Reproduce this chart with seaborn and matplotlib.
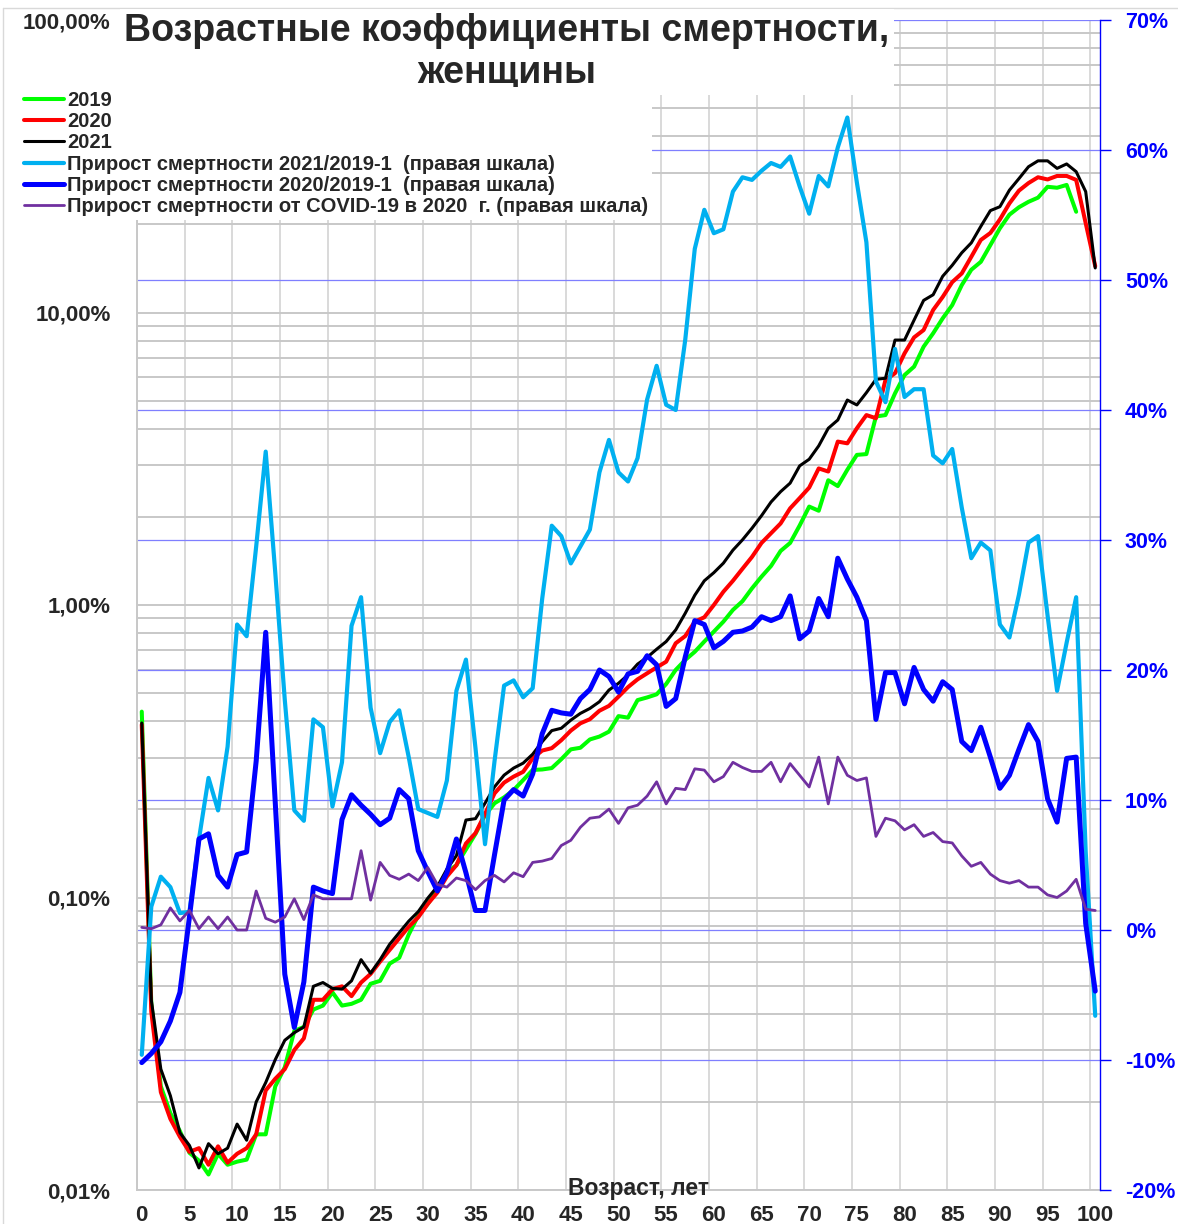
import numpy as np
import pandas as pd
import matplotlib
matplotlib.use('Agg')
import matplotlib.pyplot as plt
import seaborn as sns
from matplotlib.lines import Line2D
from matplotlib import transforms
from matplotlib.ticker import FixedLocator, LogLocator, NullFormatter, FuncFormatter

# --- данные (в %) ---
ages = list(range(101))

m2019 = [0.432, 0.0433, 0.0226, 0.0183, 0.0159, 0.0134, 0.0126, 0.0113, 0.0133, 0.0122,
         0.0125, 0.0127, 0.0155, 0.0155, 0.0226, 0.0263, 0.0350, 0.0361, 0.0414, 0.0427,
         0.0474, 0.0427, 0.0433, 0.0447, 0.0507, 0.0519, 0.0594, 0.0622, 0.0747, 0.0869,
         0.0951, 0.106, 0.122, 0.129, 0.146, 0.165, 0.191, 0.210, 0.220, 0.233,
         0.252, 0.273, 0.274, 0.277, 0.297, 0.321, 0.325, 0.347, 0.355, 0.369,
         0.417, 0.412, 0.473, 0.483, 0.495, 0.537, 0.600, 0.649, 0.692, 0.750,
         0.811, 0.877, 0.962, 1.03, 1.14, 1.25, 1.36, 1.53, 1.63, 1.87,
         2.17, 2.10, 2.67, 2.55, 2.90, 3.26, 3.28, 4.41, 4.46, 5.29,
         6.11, 6.53, 7.64, 8.49, 9.55, 10.6, 12.4, 14.0, 14.9, 17.0,
         19.4, 21.6, 22.9, 23.9, 24.7, 26.9, 26.7, 27.3, 22.1, np.nan, np.nan]

m2020 = [0.39, 0.0407, 0.0216, 0.0175, 0.0152, 0.0135, 0.0139, 0.0122, 0.0141, 0.0124,
         0.0133, 0.0139, 0.0155, 0.0219, 0.0240, 0.0259, 0.0301, 0.0330, 0.0447, 0.0447,
         0.0486, 0.0497, 0.0460, 0.0512, 0.0548, 0.0604, 0.0662, 0.0725, 0.0794, 0.0856,
         0.0951, 0.104, 0.118, 0.129, 0.153, 0.166, 0.193, 0.227, 0.247, 0.259,
         0.269, 0.299, 0.318, 0.324, 0.345, 0.372, 0.394, 0.407, 0.435, 0.452,
         0.486, 0.524, 0.557, 0.584, 0.612, 0.640, 0.740, 0.783, 0.877, 0.908,
         1.0, 1.11, 1.21, 1.33, 1.46, 1.63, 1.76, 1.90, 2.14, 2.32,
         2.52, 2.93, 2.86, 3.62, 3.57, 4.02, 4.46, 4.35, 5.88, 6.20,
         7.25, 8.22, 8.71, 10.2, 11.3, 12.7, 13.6, 15.5, 17.7, 18.7,
         20.8, 23.6, 26.1, 27.7, 29.0, 28.5, 29.3, 29.3, 28.4, 20.2, 14.4]

m2021 = [0.395, 0.0447, 0.0259, 0.0210, 0.0157, 0.0142, 0.0119, 0.0144, 0.0133, 0.0139,
         0.0168, 0.0148, 0.0200, 0.0233, 0.0279, 0.0325, 0.0345, 0.0361, 0.0497, 0.0512,
         0.0489, 0.0486, 0.0519, 0.0613, 0.0551, 0.0613, 0.0692, 0.0758, 0.0830, 0.0895,
         0.0995, 0.109, 0.125, 0.139, 0.184, 0.186, 0.210, 0.239, 0.262, 0.277,
         0.288, 0.309, 0.341, 0.372, 0.379, 0.404, 0.426, 0.443, 0.467, 0.512,
         0.540, 0.577, 0.628, 0.662, 0.706, 0.750, 0.822, 0.937, 1.08, 1.21,
         1.29, 1.39, 1.54, 1.67, 1.83, 2.02, 2.25, 2.44, 2.61, 2.99,
         3.15, 3.50, 4.02, 4.29, 5.02, 4.83, 5.32, 5.91, 5.96, 8.05,
         8.05, 9.42, 11.0, 11.5, 13.3, 14.5, 16.0, 17.3, 19.7, 22.3,
         23.0, 26.2, 28.7, 31.5, 33.0, 33.0, 31.1, 32.2, 30.3, 25.9, 14.2]

# прирост смертности, % (правая шкала)
gr_2021 = [-9.6, 1.8, 4.1, 3.3, 1.3, 1.4, 7.0, 11.7, 9.2, 14.1,
           23.5, 22.6, 29.5, 36.8, 27.5, 17.7, 9.2, 8.4, 16.2, 15.6,
           9.5, 12.9, 23.4, 25.6, 17.1, 13.6, 16.0, 16.9, 13.3, 9.3,
           9.0, 8.7, 11.5, 18.4, 20.8, 14.0, 6.6, 13.0, 18.8, 19.2,
           17.9, 18.6, 25.5, 31.1, 30.3, 28.2, 29.5, 30.8, 35.2, 37.7,
           35.2, 34.5, 36.3, 40.8, 43.4, 40.4, 40.0, 45.4, 52.4, 55.4,
           53.6, 53.9, 56.8, 57.9, 57.7, 58.4, 59.0, 58.7, 59.5, 57.2,
           55.1, 58.0, 57.2, 60.2, 62.5, 57.5, 52.9, 42.2, 40.6, 44.7,
           41.0, 41.6, 41.6, 36.5, 35.9, 37.0, 32.5, 28.6, 29.8, 29.2,
           23.5, 22.5, 25.8, 29.8, 30.3, 24.2, 18.4, 22.1, 25.6, 6.0, -6.6]

gr_2020 = [-10.2, -9.5, -8.6, -7.0, -4.8, 1.0, 7.0, 7.4, 4.2, 3.3,
           5.8, 6.0, 13.0, 22.9, 9.8, -3.4, -7.5, -4.0, 3.3, 3.0,
           2.8, 8.5, 10.4, 9.6, 8.9, 8.1, 8.6, 10.8, 10.1, 6.1,
           4.5, 3.0, 4.4, 7.0, 4.4, 1.5, 1.5, 5.8, 10.0, 10.8,
           10.3, 12.0, 15.1, 16.9, 16.7, 16.6, 17.8, 18.5, 20.0, 19.5,
           18.3, 19.7, 19.9, 21.1, 20.4, 17.2, 17.8, 21.0, 23.8, 23.5,
           21.7, 22.2, 22.9, 23.0, 23.3, 24.1, 23.8, 24.1, 25.7, 22.4,
           23.0, 25.5, 24.1, 28.6, 27.0, 25.6, 23.8, 16.2, 19.8, 19.8,
           17.4, 20.2, 18.5, 17.6, 19.1, 18.5, 14.5, 13.8, 15.6, 13.3,
           10.9, 11.9, 13.9, 15.8, 14.5, 10.1, 8.3, 13.2, 13.3, 0.5, -4.7]

covid_2020 = [0.2, 0.1, 0.4, 1.7, 0.7, 1.5, 0.1, 1.0, 0.1, 1.0,
              0.0, 0.0, 3.0, 0.9, 0.6, 1.0, 2.4, 0.8, 2.7, 2.4,
              2.4, 2.4, 2.4, 6.1, 2.3, 5.2, 4.2, 3.9, 4.3, 3.8,
              4.8, 3.5, 3.3, 4.0, 3.8, 3.1, 3.8, 4.2, 3.7, 4.4,
              4.1, 5.2, 5.3, 5.5, 6.5, 6.9, 7.9, 8.6, 8.7, 9.3,
              8.2, 9.4, 9.6, 10.3, 11.4, 9.7, 10.9, 10.8, 12.4, 12.3,
              11.4, 11.8, 12.9, 12.5, 12.2, 12.2, 12.9, 11.4, 12.8, 11.9,
              11.0, 13.3, 9.7, 13.3, 11.9, 11.5, 11.7, 7.2, 8.6, 8.4,
              7.7, 8.1, 7.2, 7.5, 6.8, 6.7, 5.7, 4.9, 5.2, 4.3,
              3.8, 3.6, 3.8, 3.3, 3.3, 2.7, 2.5, 3.0, 3.9, 1.6, 1.5]

labels = ['2019', '2020', '2021',
          'Прирост смертности 2021/2019-1  (правая шкала)',
          'Прирост смертности 2020/2019-1  (правая шкала)',
          'Прирост смертности от COVID-19 в 2020  г. (правая шкала)']

left_ticks = [0.01, 0.1, 1, 10, 100]
right_ticks = list(range(-20, 71, 10))
x_ticks = list(range(0, 101, 5))

df = pd.DataFrame({'age': ages, 'm2019': m2019, 'm2020': m2020, 'm2021': m2021,
                   'gr_2021': gr_2021, 'gr_2020': gr_2020, 'covid': covid_2020})

sns.set_style('white')
plt.rcParams['font.family'] = ['Liberation Sans', 'DejaVu Sans']
plt.rcParams['font.weight'] = 'bold'

fig = plt.figure(figsize=(11.78, 12.24), dpi=100)
ax = fig.add_axes([137/1178, 1 - 1190/1224, 963/1178, 1170/1224])
ax2 = ax.twinx()

# левая шкала - коэффициенты смертности
sns.lineplot(data=df, x='age', y='m2019', ax=ax, color='#00ff00', linewidth=2.9)
sns.lineplot(data=df, x='age', y='m2020', ax=ax, color='#ff0000', linewidth=2.9)
sns.lineplot(data=df, x='age', y='m2021', ax=ax, color='black', linewidth=2.2)
handles = list(ax.lines[:3])

# правая шкала - прирост
sns.lineplot(data=df, x='age', y='gr_2021', ax=ax2, color='#00b0f0', linewidth=3.0)
sns.lineplot(data=df, x='age', y='gr_2020', ax=ax2, color='#0000ff', linewidth=3.6)
sns.lineplot(data=df, x='age', y='covid', ax=ax2, color='#7030a0', linewidth=2.0)
handles += list(ax2.lines[:3])

ax.set_yscale('log')
ax.set_ylim(0.01, 100)
ax.set_xlim(-0.5, 100.5)
ax2.set_ylim(-20, 70)

ax.yaxis.set_major_locator(FixedLocator(left_ticks))
ax.yaxis.set_major_formatter(FuncFormatter(lambda v, _: f'{v:.2f}%'.replace('.', ',')))
ax.yaxis.set_minor_locator(LogLocator(base=10, subs=np.arange(2, 10)))
ax.yaxis.set_minor_formatter(NullFormatter())
ax.set_xticks(x_ticks)
ax.xaxis.set_minor_locator(FixedLocator(np.arange(-0.5, 100, 5)))

ax.set_axisbelow(True)
ax.xaxis.grid(True, which='minor', color='#d9d9d9', linewidth=1.4)
ax.xaxis.grid(False, which='major')
ax.yaxis.grid(True, which='both', color='#c8c8c8', linewidth=1.4)

# синие линии сетки правой шкалы - под линиями графика
blend = transforms.blended_transform_factory(ax.transAxes, ax2.transData)
for v in right_ticks:
    ax.add_line(Line2D([0, 1], [v, v], transform=blend, color='#7f7fff',
                       linewidth=0.9, zorder=1))

ax.set_xlabel('')
ax.set_ylabel('')
ax2.set_ylabel('')
ax.tick_params(axis='x', which='both', length=0, pad=11, labelsize=16)
ax.tick_params(axis='y', which='both', length=0, pad=19, labelsize=16)
ax2.set_yticks(right_ticks)
ax2.set_yticklabels([f'{v}%' for v in right_ticks])
ax2.tick_params(axis='y', colors='#0000ff', length=8, width=1, pad=10, labelsize=15.5)

for s in ['top', 'right']:
    ax.spines[s].set_visible(False)
for s in ['left', 'bottom']:
    ax.spines[s].set_color('#c8c8c8')
    ax.spines[s].set_linewidth(1.4)
for s in ['top', 'left', 'bottom']:
    ax2.spines[s].set_visible(False)
ax2.spines['right'].set_color('#0000ff')
ax2.spines['right'].set_linewidth(1.0)

fig.text(639/1178, 1 - 1188/1224, 'Возраст, лет', ha='center', va='center',
         fontsize=16.5, fontweight='bold')

fig.text(507/1178, 1 - 13/1224, 'Возрастные коэффициенты смертности,\nженщины',
         ha='center', va='top', fontsize=27, fontweight='bold', linespacing=1.2,
         bbox=dict(facecolor='white', edgecolor='none', pad=3))

fig.legend(handles, labels, loc='upper left', bbox_to_anchor=(20/1178, 1 - 87/1224),
           frameon=True, facecolor='white', edgecolor='none', framealpha=1,
           fancybox=False, fontsize=14.5, handlelength=2.0, handletextpad=0.15,
           labelspacing=0.11, borderpad=0.2, borderaxespad=0)

# рамка области диаграммы
fig.add_artist(Line2D([3/1178, 1], [1 - 8/1224, 1 - 8/1224], transform=fig.transFigure,
                      color='#d9d9d9', linewidth=1))
fig.add_artist(Line2D([3/1178, 3/1178], [0, 1 - 8/1224], transform=fig.transFigure,
                      color='#d9d9d9', linewidth=1))

plt.savefig('out.png', dpi=100)
